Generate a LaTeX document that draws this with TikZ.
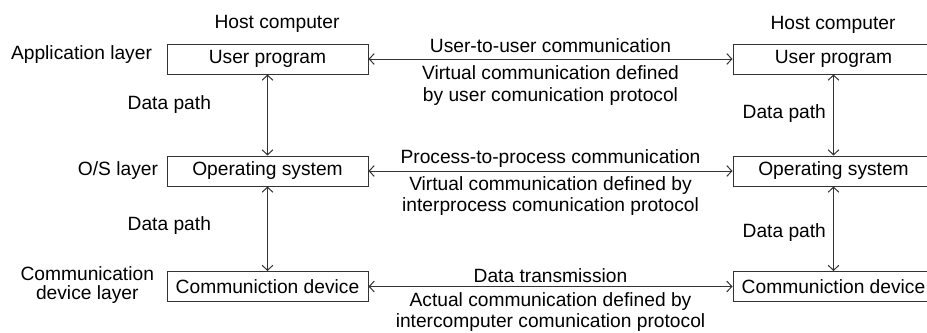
\documentclass[tikz,border=0pt]{standalone}
\usepackage{fontspec}
\setmainfont{Liberation Sans}
\usepackage{tikz}
\usetikzlibrary{arrows.meta,positioning}

\begin{document}
\begin{tikzpicture}[x=0.75pt,y=-0.75pt,>={Straight Barb[length=3.75pt,width=8pt]},line width=0.75pt,
                    font=\fontsize{14.4}{16}\selectfont]
                  \tikzstyle{box}=[draw=black!80,minimum width=150.75pt,minimum height=22.5pt,inner sep=0pt]
                  \tikzstyle{link}=[<->,draw=black!80]
                  \useasboundingbox (0,0) rectangle (927,332);

                  % host on the left
                  \node[box]         (up1) at (267.5,59)  {User program};
                  \node[box]         (os1) at (267.5,171) {Operating system};
                  \node[box]         (cd1) at (267.5,286.5) {Communiction device};
                  % host on the right
                  \node[box]         (up2) at (833.5,59)  {User program};
                  \node[box]         (os2) at (833.5,171) {Operating system};
                  \node[box]         (cd2) at (833.5,286.5) {Communiction device};

                  \node (host1) at (277,23.5) {Host computer};
                  \node (host2) at (833,24.5) {Host computer};

                  \node[left=7.2pt of up1,yshift=3.5pt] (app) {Application layer};
                  \node[left=2.7pt of os1] (osl) {O/S layer};
                  \node[left=5.7pt of cd1,yshift=1pt,align=center,font=\fontsize{14.4}{14}\selectfont] (cdl) {Communication\\device layer};

                  \path[link] (up1) edge node[pos=0.37,left=38.7pt] {Data path} (os1)
                              (os1) edge node[pos=0.46,left=38.7pt] {Data path} (cd1)
                              (up2) edge node[pos=0.48,left=2pt] {Data path} (os2)
                              (os2) edge node[pos=0.54,left=2pt] {Data path} (cd2);

                  \path[link] (up1) edge node[above,yshift=1pt] {User-to-user communication}
                                         node[below,align=center,yshift=-1.5pt] {Virtual communication defined\\by user comunication protocol} (up2)
                              (os1) edge node[above,yshift=-1pt] {Process-to-process communication}
                                         node[below,align=center,yshift=-0.5pt] {Virtual communication defined by\\interprocess comunication protocol} (os2)
                              (cd1) edge node[above,yshift=-1pt] {Data transmission}
                                         node[below,align=center,yshift=-0.5pt] {Actual communication defined by\\intercomputer comunication protocol} (cd2);
                \end{tikzpicture}
\end{document}
